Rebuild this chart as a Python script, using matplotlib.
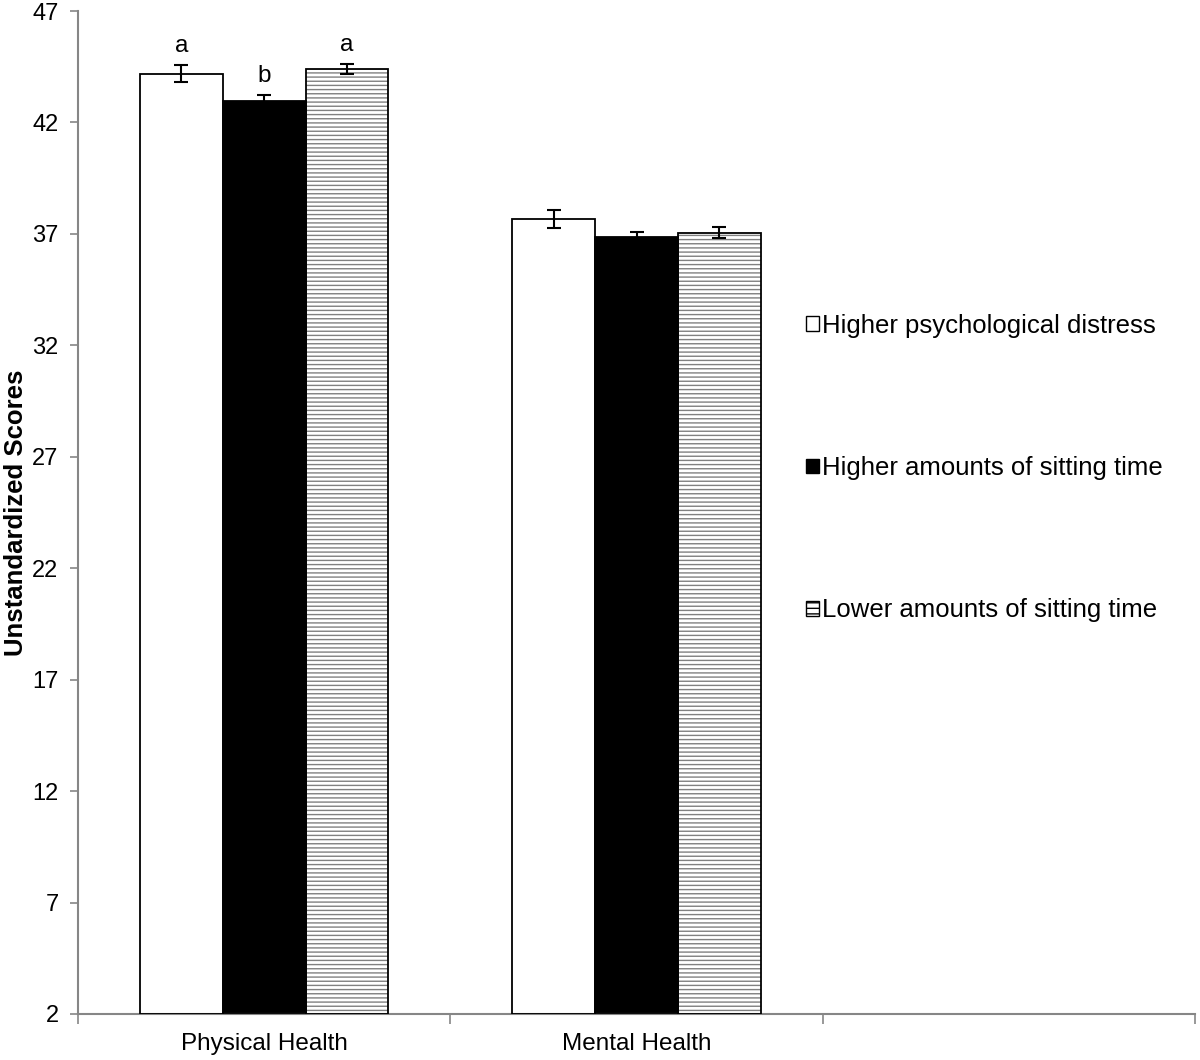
import matplotlib.pyplot as plt
import numpy as np
from matplotlib.patches import Patch

plt.rcParams['font.family'] = ['Liberation Sans', 'DejaVu Sans']
plt.rcParams['hatch.color'] = '#808080'
plt.rcParams['hatch.linewidth'] = 1.0

# data
categories = ['Physical Health', 'Mental Health', '']
series = ['Higher psychological distress',
          'Higher amounts of sitting time',
          'Lower amounts of sitting time']
means = [[44.19, 37.67],   # higher distress
         [42.96, 36.88],   # higher sitting
         [44.40, 37.05]]   # lower sitting
errors = [[0.38, 0.40],
          [0.26, 0.20],
          [0.24, 0.24]]
letters = [['a', ''], ['b', ''], ['a', '']]

fig = plt.figure(figsize=(12, 10.6), dpi=100)
ax = fig.add_axes([0.065, 0.0434, 0.931, 0.9462])

width = 0.2225
x = np.arange(2)
styles = [dict(color='white', hatch=None),
          dict(color='black', hatch=None),
          dict(color='white', hatch='----')]

for i in range(3):
    pos = x + (i - 1) * width
    st = styles[i]
    # fill (with grey hatch) then black outline on top
    ax.bar(pos, np.array(means[i]) - 2, width, bottom=2, color=st['color'],
           hatch=st['hatch'], edgecolor='#808080' if st['hatch'] else 'none',
           linewidth=0, zorder=2)
    ax.bar(pos, np.array(means[i]) - 2, width, bottom=2, fill=False,
           edgecolor='black', linewidth=1.3, zorder=3)
    ax.errorbar(pos, means[i], yerr=errors[i], fmt='none', ecolor='black',
                elinewidth=1.5, capsize=5, capthick=1.5, zorder=4)
    for j in range(2):
        if letters[i][j]:
            ax.text(pos[j], means[i][j] + errors[i][j] + 0.35, letters[i][j],
                    ha='center', va='bottom', fontsize=17.5)

ax.set_xlim(-0.5, 2.5)
ax.set_ylim(2, 47)
ax.set_yticks(np.arange(2, 48, 5))
ax.set_xticks([-0.5, 0.5, 1.5, 2.5])
ax.set_xticklabels([])
ax.set_xticks([0, 1, 2], minor=True)
ax.set_xticklabels(categories, minor=True)
ax.tick_params(axis='x', which='minor', length=0, labelsize=17.5, pad=14)
ax.tick_params(axis='x', which='major', length=7, width=1.2, color='#868686',
               direction='out')
ax.tick_params(axis='y', length=6, width=1.2, color='#868686', direction='out',
               labelsize=17, pad=8)
for s in ['top', 'right']:
    ax.spines[s].set_visible(False)
for s in ['left', 'bottom']:
    ax.spines[s].set_color('#868686')
    ax.spines[s].set_linewidth(1.5)

ax.set_ylabel('Unstandardized Scores', fontsize=18.5, fontweight='bold',
              va='center')
ax.yaxis.set_label_coords(-0.0555, 0.5)

handles = [Patch(facecolor='white', edgecolor='black', linewidth=1),
           Patch(facecolor='black', edgecolor='black', linewidth=1),
           Patch(facecolor='white', edgecolor='black', hatch='---', linewidth=1)]
ax.legend(handles, series, loc='upper left', bbox_to_anchor=(0.652, 0.698),
          frameon=False, fontsize=18.5, handlelength=0.5, handleheight=0.5,
          handletextpad=0.1, labelspacing=4.6, borderpad=0, borderaxespad=0)

fig.savefig('out.png', dpi=100)
